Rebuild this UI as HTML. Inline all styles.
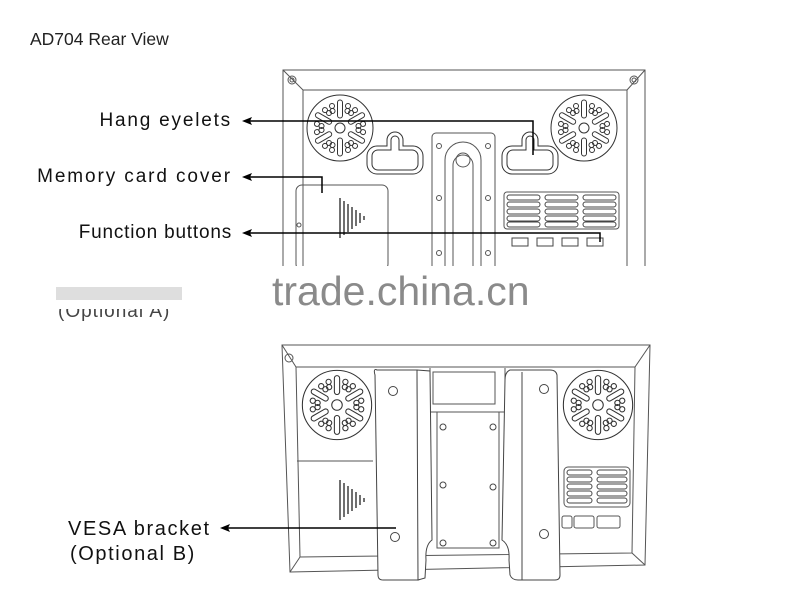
<!DOCTYPE html>
<html><head><meta charset="utf-8"><style>
html,body{margin:0;padding:0;background:#fff;width:800px;height:600px;overflow:hidden}
svg{display:block}
text{font-family:"Liberation Sans",sans-serif}
</style></head><body>
<svg width="800" height="600" viewBox="0 0 800 600" xmlns="http://www.w3.org/2000/svg">
<defs>
<g id="spk" fill="none" stroke="#333" stroke-width="1">
  <circle r="33"/>
  <circle r="5"/>
  <g id="arm"><rect x="-2.5" y="-28" width="5" height="18" rx="2.5"/><circle cx="-8" cy="-22" r="2.5"/><circle cx="8" cy="-22" r="2.5"/><circle cx="-11" cy="-15" r="2.5"/><circle cx="11" cy="-15" r="2.5"/></g>
  <use href="#arm" transform="rotate(60)"/><use href="#arm" transform="rotate(120)"/>
  <use href="#arm" transform="rotate(180)"/><use href="#arm" transform="rotate(240)"/><use href="#arm" transform="rotate(300)"/>
</g>
<g id="key" fill="none" stroke="#333" stroke-width="1">
  <path d="M-8,-18 a8,8 0 0 1 16,0 v6 h10 a10,10 0 0 1 10,10 v8 a10,10 0 0 1 -10,10 h-36 a10,10 0 0 1 -10,-10 v-8 a10,10 0 0 1 10,-10 h10z"/>
  <path d="M-4,-18 a4,4 0 0 1 8,0 v10 h13 a6,6 0 0 1 6,6 v8 a6,6 0 0 1 -6,6 h-34 a6,6 0 0 1 -6,-6 v-8 a6,6 0 0 1 6,-6 h13z"/>
</g>
<g id="horn" stroke="#222" stroke-width="1.3">
  <line x1="0" y1="-20" x2="0" y2="20"/><line x1="4" y1="-17" x2="4" y2="17"/><line x1="8" y1="-14" x2="8" y2="14"/>
  <line x1="12" y1="-11" x2="12" y2="11"/><line x1="16" y1="-8" x2="16" y2="8"/><line x1="20" y1="-5" x2="20" y2="5"/><line x1="24" y1="-2" x2="24" y2="2"/>
</g>
</defs>

<text x="30" y="45" font-size="17.5" fill="#222">AD704 Rear View</text>

<g fill="none" stroke="#555" stroke-width="1">
  <path d="M283,268 V70 H645 V268"/>
  <path d="M303,268 V90 H627 V268"/>
  <line x1="283" y1="70" x2="303" y2="90"/><line x1="645" y1="70" x2="627" y2="90"/>
  <circle cx="292" cy="80" r="4"/><circle cx="292" cy="80" r="2"/>
  <circle cx="634" cy="80" r="4"/><circle cx="634" cy="80" r="2"/>
  <rect x="296" y="185" width="92" height="85" rx="6"/>
  <rect x="432" y="133" width="63" height="140" rx="4"/>
  <path d="M445,273 V160 a18,18 0 0 1 36,0 V273"/>
  <path d="M453,273 V165 a10,10 0 0 1 20,0 V273"/>
  <circle cx="463" cy="160" r="7"/>
  <circle cx="439" cy="146" r="2.5"/><circle cx="488" cy="146" r="2.5"/>
  <circle cx="439" cy="198" r="2.5"/><circle cx="488" cy="198" r="2.5"/>
  <circle cx="439" cy="253" r="2.5"/><circle cx="488" cy="253" r="2.5"/>
  <circle cx="299" cy="225" r="2"/>
  <rect x="504" y="192" width="115" height="37" rx="3"/>
</g>
<g fill="none" stroke="#444" stroke-width="1">
  <rect x="507" y="195" width="33" height="5" rx="2.5"/><rect x="545" y="195" width="33" height="5" rx="2.5"/><rect x="583" y="195" width="33" height="5" rx="2.5"/>
  <rect x="507" y="202" width="33" height="5" rx="2.5"/><rect x="545" y="202" width="33" height="5" rx="2.5"/><rect x="583" y="202" width="33" height="5" rx="2.5"/>
  <rect x="507" y="209" width="33" height="5" rx="2.5"/><rect x="545" y="209" width="33" height="5" rx="2.5"/><rect x="583" y="209" width="33" height="5" rx="2.5"/>
  <rect x="507" y="216" width="33" height="5" rx="2.5"/><rect x="545" y="216" width="33" height="5" rx="2.5"/><rect x="583" y="216" width="33" height="5" rx="2.5"/>
  <rect x="507" y="222" width="33" height="5" rx="2.5"/><rect x="545" y="222" width="33" height="5" rx="2.5"/><rect x="583" y="222" width="33" height="5" rx="2.5"/>
  <rect x="512" y="238" width="16" height="8"/><rect x="537" y="238" width="16" height="8"/><rect x="562" y="238" width="16" height="8"/><rect x="587" y="238" width="16" height="8"/>
</g>
<use href="#spk" transform="translate(340,128)"/>
<use href="#spk" transform="translate(584,128)"/>
<use href="#key" transform="translate(395,158)"/>
<use href="#key" transform="translate(530,158)"/>
<use href="#horn" transform="translate(340,218)"/>

<g fill="#111" font-size="19">
  <text x="232" y="126" text-anchor="end" letter-spacing="1.8">Hang eyelets</text>
  <text x="232" y="182" text-anchor="end" letter-spacing="1.9">Memory card cover</text>
  <text x="232" y="238" text-anchor="end" letter-spacing="0.8">Function buttons</text>
</g>
<g stroke="#000" stroke-width="1.5" fill="none">
  <polyline points="247,121 533,121 533,155"/>
  <polyline points="247,177 322,177 322,193"/>
  <polyline points="247,233 600,233 600,242"/>
</g>
<g fill="#000">
  <polygon points="242,121 252,117 250,121 252,125"/>
  <polygon points="242,177 252,173 250,177 252,181"/>
  <polygon points="242,233 252,229 250,233 252,237"/>
</g>

<rect x="0" y="266" width="800" height="60" fill="#fff"/>
<rect x="56" y="287" width="126" height="14" fill="#c8c8c8" opacity="0.6"/>
<text x="58" y="317" font-size="19" fill="#444" letter-spacing="1">(Optional A)</text>
<rect x="50" y="300" width="140" height="9" fill="#fff"/>
<text x="272" y="305" font-size="41" fill="#8a8a8a">trade.china.cn</text>

<g fill="none" stroke="#555" stroke-width="1">
  <path d="M282,345 H650 L645,565 L290,572 Z"/>
  <path d="M296,367 H635 L632,553 L300,557 Z"/>
  <line x1="282" y1="345" x2="296" y2="367"/><line x1="650" y1="345" x2="635" y2="367"/>
  <line x1="290" y1="572" x2="300" y2="557"/><line x1="645" y1="565" x2="632" y2="553"/>
  <circle cx="289" cy="358" r="4"/>
  <line x1="297" y1="461" x2="373" y2="461"/>
  <rect x="433" y="372" width="62" height="32"/>
  <path d="M430,368 V412 H505 V368"/>
  <path d="M437,412 V548 H499 V412"/>
  <rect x="564" y="467" width="66" height="40" rx="4"/>
  <rect x="562" y="516" width="10" height="12" rx="2"/><rect x="574" y="516" width="20" height="12" rx="2"/><rect x="597" y="516" width="23" height="12" rx="2"/>
</g>
<g fill="none" stroke="#444" stroke-width="1">
  <rect x="567" y="470" width="25" height="5" rx="2.5"/><rect x="597" y="470" width="30" height="5" rx="2.5"/>
  <rect x="567" y="477" width="25" height="5" rx="2.5"/><rect x="597" y="477" width="30" height="5" rx="2.5"/>
  <rect x="567" y="484" width="25" height="5" rx="2.5"/><rect x="597" y="484" width="30" height="5" rx="2.5"/>
  <rect x="567" y="491" width="25" height="5" rx="2.5"/><rect x="597" y="491" width="30" height="5" rx="2.5"/>
  <rect x="567" y="498" width="25" height="5" rx="2.5"/><rect x="597" y="498" width="30" height="5" rx="2.5"/>
</g>
<use href="#spk" transform="translate(337,405) scale(1.05)"/>
<use href="#spk" transform="translate(598,405) scale(1.05)"/>
<use href="#horn" transform="translate(340,500)"/>
<g fill="#fff" stroke="#444" stroke-width="1">
  <path d="M377,370 Q373,368 375,375 L378,575 Q378,580 383,580 H418 Q421,580 420,575 L417,370 Z"/>
  <path d="M417,370 L430,371 L432,540 Q425,545 426,560 L425,578 L418,580 Z"/>
  <path d="M510,370 Q505,372 505,380 L502,540 Q510,545 509,560 L510,575 Q512,580 518,580 H555 Q560,580 560,575 L557,375 Q556,370 550,370 Z"/>
  <line x1="522" y1="372" x2="522" y2="580"/>
  <circle cx="393" cy="391" r="4.5"/><circle cx="395" cy="537" r="4.5"/>
  <circle cx="544" cy="389" r="4.5"/><circle cx="544" cy="534" r="4.5"/>
  <circle cx="443" cy="427" r="3"/><circle cx="493" cy="427" r="3"/>
  <circle cx="443" cy="485" r="3"/><circle cx="493" cy="487" r="3"/>
  <circle cx="443" cy="543" r="3"/><circle cx="493" cy="543" r="3"/>
</g>
<g fill="#111" font-size="20">
  <text x="68" y="535" letter-spacing="1.6">VESA bracket</text>
  <text x="70" y="560" letter-spacing="1.6">(Optional B)</text>
</g>
<line x1="227" y1="528" x2="396" y2="528" stroke="#000" stroke-width="1.5"/>
<polygon points="220,528 230,524 228,528 230,532" fill="#000"/>
</svg>
</body></html>
